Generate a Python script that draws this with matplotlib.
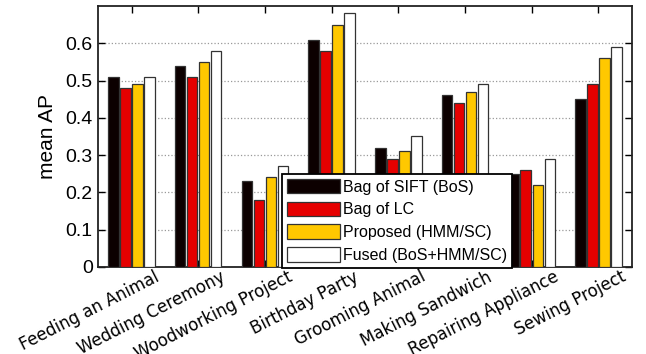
import matplotlib
matplotlib.use("Agg")
import matplotlib.pyplot as plt
import matplotlib.transforms as mtransforms
import numpy as np

categories = ["Feeding an Animal", "Wedding Ceremony", "Woodworking Project",
              "Birthday Party", "Grooming Animal", "Making Sandwich",
              "Repairing Appliance", "Sewing Project"]
bos = [0.51, 0.54, 0.23, 0.61, 0.32, 0.46, 0.25, 0.45]
blc = [0.48, 0.51, 0.18, 0.58, 0.29, 0.44, 0.26, 0.49]
proposed = [0.49, 0.55, 0.24, 0.65, 0.31, 0.47, 0.22, 0.56]
fused = [0.51, 0.58, 0.27, 0.68, 0.35, 0.49, 0.29, 0.59]
labels = ["Bag of SIFT (BoS)", "Bag of LC", "Proposed (HMM/SC)", "Fused (BoS+HMM/SC)"]
colors = ["#0c0000", "#e60000", "#ffc800", "#ffffff"]

fig = plt.figure(figsize=(6.46, 3.54), dpi=100)
ax = fig.add_axes([0.152, 0.246, 0.826, 0.737])

ind = np.arange(len(categories))
width = 0.157
step = 0.18
bars = []
for i, vals in enumerate([bos, blc, proposed, fused]):
    b = ax.bar(ind + (i - 1.5) * step, vals, width, color=colors[i],
               edgecolor="#333333", linewidth=0.9, zorder=3)
    bars.append(b)

ax.set_xlim(-0.5, 7.5)
ax.set_ylim(0, 0.7)
ax.set_yticks([0, 0.1, 0.2, 0.3, 0.4, 0.5, 0.6])
ax.set_yticklabels(["0", "0.1", "0.2", "0.3", "0.4", "0.5", "0.6"],
                   fontsize=14, family="Liberation Sans")
ax.set_xticks(ind)
ax.set_xticklabels([])
# category labels sit a bit right of their ticks, like the original
shift = mtransforms.ScaledTranslation(0.22, -0.01, fig.dpi_scale_trans)
trans = ax.get_xaxis_transform() + shift
for i, cat in enumerate(categories):
    ax.text(i, 0, cat, transform=trans, rotation=27, ha="right", va="top",
            rotation_mode="anchor", fontsize=12)
ax.tick_params(direction="in", top=True, right=True, length=5, width=1)
ax.tick_params(axis="y", pad=4)
ax.yaxis.grid(True, linestyle=":", color="#999999", linewidth=0.9, zorder=0)
for s in ax.spines.values():
    s.set_linewidth(1.3)
    s.set_color("#222222")
ax.set_ylabel("mean AP", fontsize=15, family="Liberation Sans", labelpad=6)

leg = ax.legend(bars, labels, loc="lower left", bbox_to_anchor=(0.345, -0.004),
                prop={"family": "Liberation Sans", "size": 11.5},
                handlelength=3.3, handleheight=1.05, labelspacing=0.44,
                handletextpad=0.18, borderpad=0.3, borderaxespad=0,
                fancybox=False, framealpha=1)
leg.get_frame().set_edgecolor("black")
leg.get_frame().set_linewidth(1.3)

plt.savefig("out.png", dpi=100)
